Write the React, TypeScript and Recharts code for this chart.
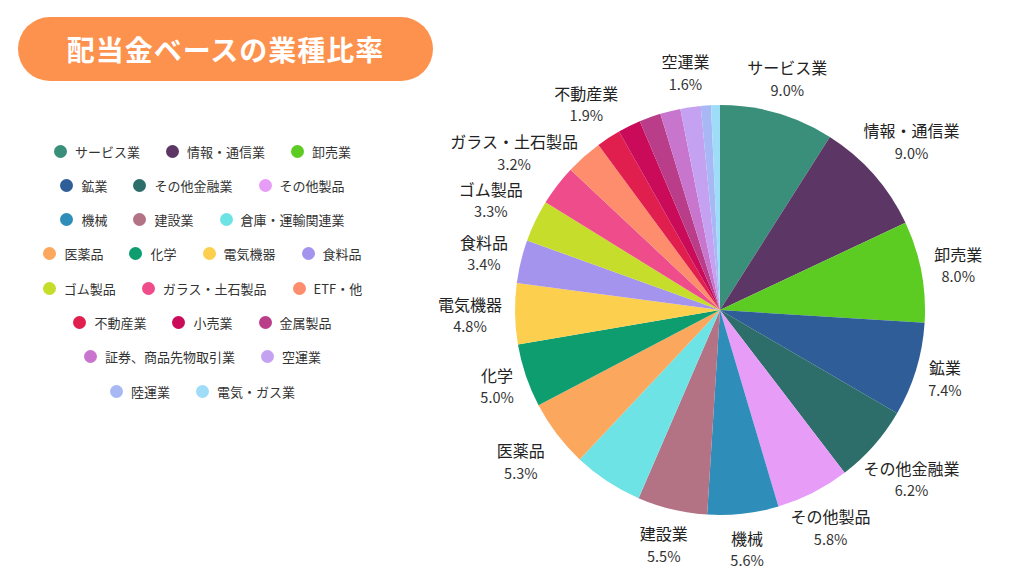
import React from 'react';
import { PieChart, Pie, Cell, Legend } from 'recharts';

const names = [
  'サービス業', '情報・通信業', '卸売業', '鉱業', 'その他金融業', 'その他製品',
  '機械', '建設業', '倉庫・運輸関連業', '医薬品', '化学', '電気機器', '食料品',
  'ゴム製品', 'ガラス・土石製品', 'ETF・他', '不動産業', '小売業', '金属製品',
  '証券、商品先物取引業', '空運業', '陸運業', '電気・ガス業',
];

const shares = [
  9.0, 9.0, 8.0, 7.4, 6.2, 5.8, 5.6, 5.5, 5.5, 5.3, 5.0, 4.8, 3.4, 3.3, 3.2,
  2.9, 1.9, 1.8, 1.7, 1.6, 1.6, 0.8, 0.7,
];

const colors = [
  '#3a8f7b', '#5c3766', '#5ccb22', '#2e5d98', '#2d6d6a', '#e79df7',
  '#2f8db9', '#b47285', '#6de3e5', '#fca75e', '#0d9d6f', '#fdcf4f', '#a594ee',
  '#c6dd2b', '#ef4c8b', '#fd8d6c', '#e11f4f', '#c90b5a', '#b93d88',
  '#c876cd', '#c4a2f1', '#a7b8f5', '#9fdcf8',
];

// slices that carry an outside label in the reference
const labeled = [
  'サービス業', '情報・通信業', '卸売業', '鉱業', 'その他金融業', 'その他製品',
  '機械', '建設業', '医薬品', '化学', '電気機器', '食料品', 'ゴム製品',
  'ガラス・土石製品', '不動産業', '空運業',
];

const data = names.map((name, i) => ({ name, value: shares[i] }));

const FONT = '"Noto Sans CJK JP", "Noto Sans", sans-serif';

const textWidth = (s: string, size: number) =>
  [...s].reduce((w, c) => w + (c.charCodeAt(0) > 255 ? size : size * 0.58), 0);

const renderLabel = (props: any) => {
  const { cx, cy, midAngle, outerRadius } = props;
  const name = props.name ?? props.payload?.name;
  const value = props.value ?? props.payload?.value;
  if (!labeled.includes(name)) return null;
  const rad = (-midAngle * Math.PI) / 180;
  const ux = Math.cos(rad);
  const uy = Math.sin(rad);
  const ax = cx + (outerRadius + 5) * ux;
  const ay = cy + (outerRadius + 5) * uy;
  const hw = textWidth(name, 16) / 2 + 8;
  const hh = 30;
  const d = Math.min(
    Math.abs(ux) > 1e-6 ? hw / Math.abs(ux) : Infinity,
    Math.abs(uy) > 1e-6 ? hh / Math.abs(uy) : Infinity,
  );
  const x = ax + d * ux;
  const y = ay + d * uy;
  return (
    <g>
      <text x={x} y={y - 11} textAnchor="middle" dominantBaseline="central"
        fontSize={16} fill="#222" fontFamily={FONT}>
        {name}
      </text>
      <text x={x} y={y + 11} textAnchor="middle" dominantBaseline="central"
        fontSize={14.5} fill="#333" fontFamily={FONT}>
        {Number(value).toFixed(1)}%
      </text>
    </g>
  );
};

const renderLegend = (props: any) => {
  const payload = [...(props.payload ?? [])].sort(
    (a: any, b: any) => names.indexOf(a.value) - names.indexOf(b.value),
  );
  return (
    <div
      style={{
        display: 'flex',
        flexWrap: 'wrap',
        justifyContent: 'center',
        columnGap: 26,
        rowGap: 14.3,
        fontFamily: FONT,
      }}
    >
      {payload.map((entry: any) => {
        const i = names.indexOf(entry.value);
        return (
          <div key={entry.value} style={{ display: 'flex', alignItems: 'center', height: 20 }}>
            <span
              style={{
                width: 13,
                height: 13,
                borderRadius: '50%',
                background: colors[i],
                marginRight: 8,
                display: 'inline-block',
              }}
            />
            <span style={{ fontSize: 13, color: '#333', whiteSpace: 'nowrap' }}>{entry.value}</span>
          </div>
        );
      })}
    </div>
  );
};

export default function App() {
  return (
    <div
      style={{
        position: 'absolute',
        left: 0,
        top: 0,
        width: 1024,
        height: 576,
        background: '#fff',
        fontFamily: FONT,
        overflow: 'hidden',
      }}
    >
      <div
        style={{
          position: 'absolute',
          left: 18,
          top: 17,
          width: 415,
          height: 64,
          borderRadius: 32,
          background: '#fd914e',
          color: '#fff',
          display: 'flex',
          alignItems: 'center',
          justifyContent: 'center',
          fontSize: 28,
          fontWeight: 700,
          letterSpacing: 1,
          zIndex: 2,
        }}
      >
        配当金ベースの業種比率
      </div>
      <div style={{ position: 'absolute', left: 0, top: 0 }}>
        <PieChart width={1024} height={576} margin={{ top: 0, right: 0, bottom: 0, left: 0 }}>
          <Pie
            data={data}
            dataKey="value"
            nameKey="name"
            cx={720}
            cy={310}
            outerRadius={205}
            startAngle={90}
            endAngle={-270}
            stroke="none"
            label={renderLabel}
            labelLine={false}
            isAnimationActive={false}
          >
            {data.map((d, i) => (
              <Cell key={d.name} fill={colors[i]} />
            ))}
          </Pie>
          <Legend
            content={renderLegend}
            wrapperStyle={{ position: 'absolute', left: 42, top: 141, width: 321, bottom: 'auto' }}
          />
        </PieChart>
      </div>
    </div>
  );
}
